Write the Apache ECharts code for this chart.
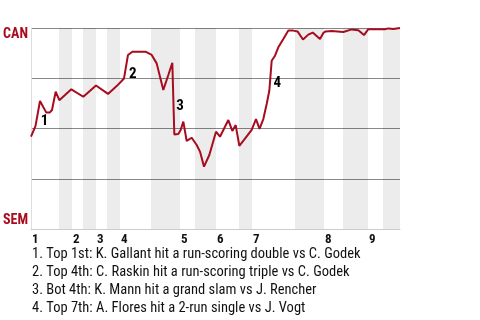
<!DOCTYPE html>
<html>
<head>
<meta charset="utf-8">
<script src="https://cdn.jsdelivr.net/npm/echarts@6/dist/echarts.min.js"></script>
<style>
html,body{margin:0;padding:0;background:#fff;}
#chart{width:480px;height:320px;}
</style>
</head>
<body>
<div id="chart"></div>
<script>
// ---- data ----
const innings = ['1', '2', '3', '4', '5', '6', '7', '8', '9'];
const inningStart = [0, 10.25, 16.25, 22.25, 37.25, 46.25, 55.25, 73.25, 84.25];
const bottomStart = [7, 13, 19, 30, 41, 52, 66, 78, 88];
const gameEnd = 92.25;
const teams = ['CAN', 'SEM'];

const progress = [0, 1.12, 2.25, 3.83, 4.67, 5.25, 6.17, 7.08, 10.08, 13.08,
  16.25, 19.25, 21.42, 23.25, 24.25, 25.33, 28.63, 30.17, 31.42, 32.25,
  33.08, 34.33, 35.33, 35.83, 36.83, 37.42, 38.08, 38.92, 40.17, 41.42,
  42.25, 43.25, 44.58, 46.25, 47.25, 49.33, 50.33, 51.17, 52.08, 53.25,
  55.17, 56.25, 57.13, 58.08, 58.92, 59.58, 60.17, 61.0, 61.83, 63.08,
  64.33, 65.58, 66.63, 68.0, 69.33, 70.42, 72.25, 73.08, 73.63, 75.17,
  78.08, 80.17, 81.83, 83.25, 84.33, 88.5, 89.33, 90.58, 92.25];
const canWinPct = [46, 51.2, 63.7, 57.9, 57.9, 59.2, 68.3, 64.1, 69.5, 65.8,
  71.4, 67.2, 71.1, 74.9, 86.6, 88.2, 88.2, 86.6, 82.4, 75.8,
  69.2, 76.6, 82.7, 47.0, 47.3, 49.3, 53.4, 43.8, 45.4, 41.8,
  38.5, 31.0, 36.8, 48.4, 45.9, 54.2, 48.8, 51.7, 41.4, 44.3,
  49.3, 54.7, 49.8, 54.7, 62.2, 68.8, 83.7, 86.2, 90.4, 94.5,
  98.7, 98.7, 98.3, 94.3, 96.7, 97.7, 94.5, 97.5, 98.3, 98.5,
  98.0, 99.3, 98.9, 96.5, 99.4, 99.4, 99.8, 99.5, 100];

const eventPoint = [2, 14, 23, 46];
const eventLabel = ['1', '2', '3', '4'];
const notes = [
  '1. Top 1st: K. Gallant hit a run-scoring double vs C. Godek',
  '2. Top 4th: C. Raskin hit a run-scoring triple vs C. Godek',
  '3. Bot 4th: K. Mann hit a grand slam vs J. Rencher',
  '4. Top 7th: A. Flores hit a 2-run single vs J. Vogt'
];

// ---- chart ----
const FONT = '"Roboto Condensed", "DejaVu Sans Condensed", sans-serif';
const RED = '#a80b1e';

const lineData = progress.map((x, i) => [x, canWinPct[i]]);
const bands = bottomStart.map((s, i) => [
  { xAxis: s },
  { xAxis: i + 1 < inningStart.length ? inningStart[i + 1] : gameEnd }
]);
const eventData = eventPoint.map((p, i) => ({
  name: eventLabel[i],
  value: [(progress[p - 1] + progress[p]) / 2, (canWinPct[p - 1] + canWinPct[p]) / 2]
}));

const chart = echarts.init(document.getElementById('chart'), null, { renderer: 'canvas' });
chart.setOption({
  animation: false,
  backgroundColor: '#fff',
  grid: { left: 31, top: 28, width: 369, height: 201, containLabel: false },
  xAxis: {
    type: 'value', min: 0, max: gameEnd,
    axisLine: { show: true, lineStyle: { color: '#cccccc', width: 1 } },
    axisTick: { show: false },
    splitLine: { show: false },
    axisLabel: {
      customValues: inningStart,
      formatter: function (v) {
        let idx = 0;
        inningStart.forEach((s, i) => { if (Math.abs(s - v) < 1e-6) idx = i; });
        return innings[idx];
      },
      align: 'left', margin: 4, padding: [0, 0, 0, 1],
      fontFamily: FONT, fontWeight: 'bold', fontSize: 13, color: '#111'
    }
  },
  yAxis: {
    type: 'value', min: 0, max: 100, interval: 25,
    axisLine: { show: true, lineStyle: { color: '#dddddd' } },
    axisTick: { show: false },
    axisLabel: { show: false },
    splitLine: { show: true, lineStyle: { color: ['#cccccc', '#888888', '#888888', '#888888', '#888888'], width: 1 } }
  },
  series: [
    {
      type: 'line',
      data: lineData,
      showSymbol: false,
      symbol: 'none',
      lineStyle: { color: RED, width: 2 },
      z: 3,
      markArea: {
        silent: true,
        itemStyle: { color: 'rgba(0,0,0,0.075)' },
        data: bands
      }
    },
    {
      type: 'scatter',
      data: eventData,
      symbolSize: 0,
      itemStyle: { color: '#000', opacity: 1 },
      silent: true,
      z: 4,
      label: {
        show: true,
        formatter: '{b}',
        position: 'right',
        distance: 3,
        offset: [0, 8],
        fontFamily: FONT, fontWeight: 'bold', fontSize: 15, color: '#000'
      }
    }
  ],
  graphic: [
    { type: 'text', x: 28, y: 34, style: { text: teams[0], align: 'right', verticalAlign: 'middle', font: 'bold 14px ' + FONT, fill: RED } },
    { type: 'text', x: 28, y: 220.5, style: { text: teams[1], align: 'right', verticalAlign: 'middle', font: 'bold 14px ' + FONT, fill: RED } }
  ].concat(notes.map((t, i) => ({
    type: 'text', x: 32, y: 254.5 + i * 18,
    style: { text: t, align: 'left', verticalAlign: 'middle', font: '14.5px ' + FONT, fill: '#111' }
  })))
});
</script>
</body>
</html>
